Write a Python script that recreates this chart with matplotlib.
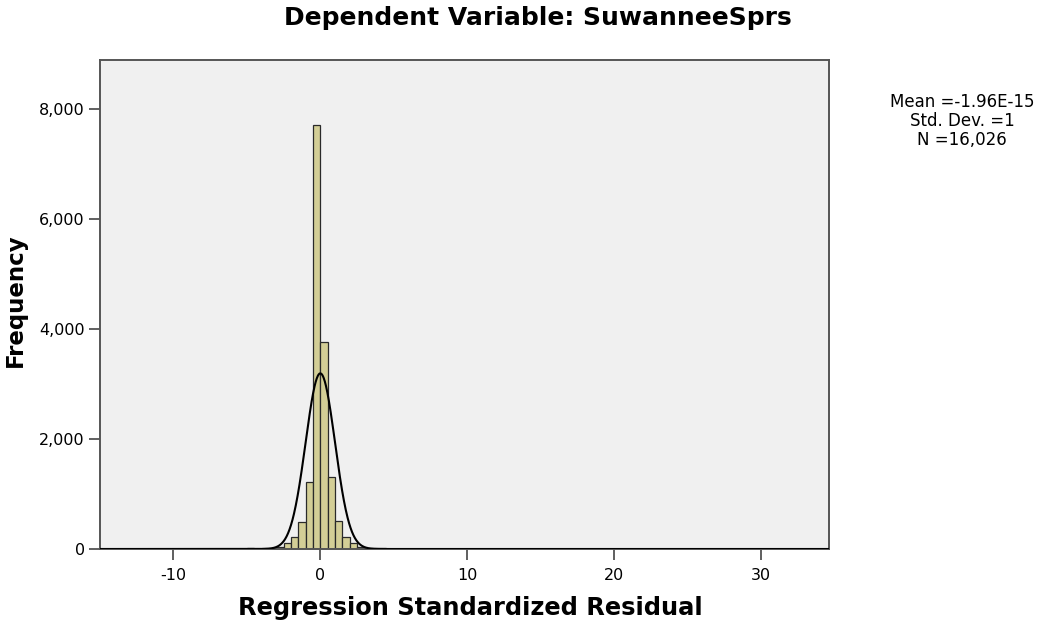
import numpy as np
import matplotlib.pyplot as plt

plt.rcParams['font.family'] = ['DejaVu Sans']

# bins de ancho 0.5 (borde izquierdo) y frecuencias
bin_left = [-9.5, -8.0, -6.0, -5.0, -4.0, -3.5, -3.0, -2.5, -2.0, -1.5, -1.0, -0.5,
            0.0, 0.5, 1.0, 1.5, 2.0, 2.5, 3.0, 3.5, 4.0, 5.0, 6.0, 8.0, 10.0, 14.0, 21.5]
conteos = [4, 5, 8, 10, 14, 20, 40, 110, 220, 495, 1220, 7710,
           3770, 1315, 510, 220, 105, 45, 25, 15, 12, 8, 6, 5, 4, 3, 3]
ancho_bin = 0.5

media = -1.96e-15
desv = 1.0
n_total = 16026

titulo = 'Dependent Variable: SuwanneeSprs'
etiqueta_x = 'Regression Standardized Residual'
etiqueta_y = 'Frequency'
texto_stats = 'Mean =-1.96E-15\nStd. Dev. =1\nN =16,026'
ticks_x = [-10, 0, 10, 20, 30]
etiquetas_x = ['-10', '0', '10', '20', '30']
ticks_y = [0, 2000, 4000, 6000, 8000]
etiquetas_y = ['0', '2,000', '4,000', '6,000', '8,000']

fig = plt.figure(figsize=(10.41, 6.25), dpi=100)
ax = fig.add_axes([0.096, 0.1216, 0.7, 0.7824])
ax.set_facecolor('#F0F0F0')

ax.bar(bin_left, conteos, width=ancho_bin, align='edge', color='#D3CE96',
       edgecolor='#2a2a2a', linewidth=0.9, zorder=2)

# curva normal con media, desviacion y N del modelo
xs = np.linspace(-15, 35, 2000)
curva = n_total * ancho_bin / (desv * np.sqrt(2 * np.pi)) * np.exp(-0.5 * ((xs - media) / desv) ** 2)
ax.plot(xs, curva, color='black', linewidth=1.5, zorder=3)

ax.set_xlim(-15, 34.6)
ax.set_ylim(0, 8900)
ax.set_xticks(ticks_x)
ax.set_xticklabels(etiquetas_x)
ax.set_yticks(ticks_y)
ax.set_yticklabels(etiquetas_y)
ax.tick_params(axis='both', direction='out', length=8, width=1.2, color='#444444',
               labelsize=11.5, pad=3)
ax.tick_params(axis='x', pad=6)
for s in ax.spines.values():
    s.set_color('#555555')
    s.set_linewidth(1.4)

fig.text(470 / 1041, 1 - 608 / 625, etiqueta_x, ha='center', va='center',
         fontsize=17.4, fontweight='bold')
fig.text(15 / 1041, 1 - 300 / 625, etiqueta_y, ha='center', va='center',
         fontsize=16.5, fontweight='bold', rotation=90)
fig.text(538 / 1041, 1 - 18 / 625, titulo, ha='center', va='center', fontsize=18, fontweight='bold')
fig.text(962 / 1041, 1 - 121 / 625, texto_stats, ha='center', va='center', fontsize=12,
         linespacing=1.1)

fig.savefig('out.png', dpi=100)
